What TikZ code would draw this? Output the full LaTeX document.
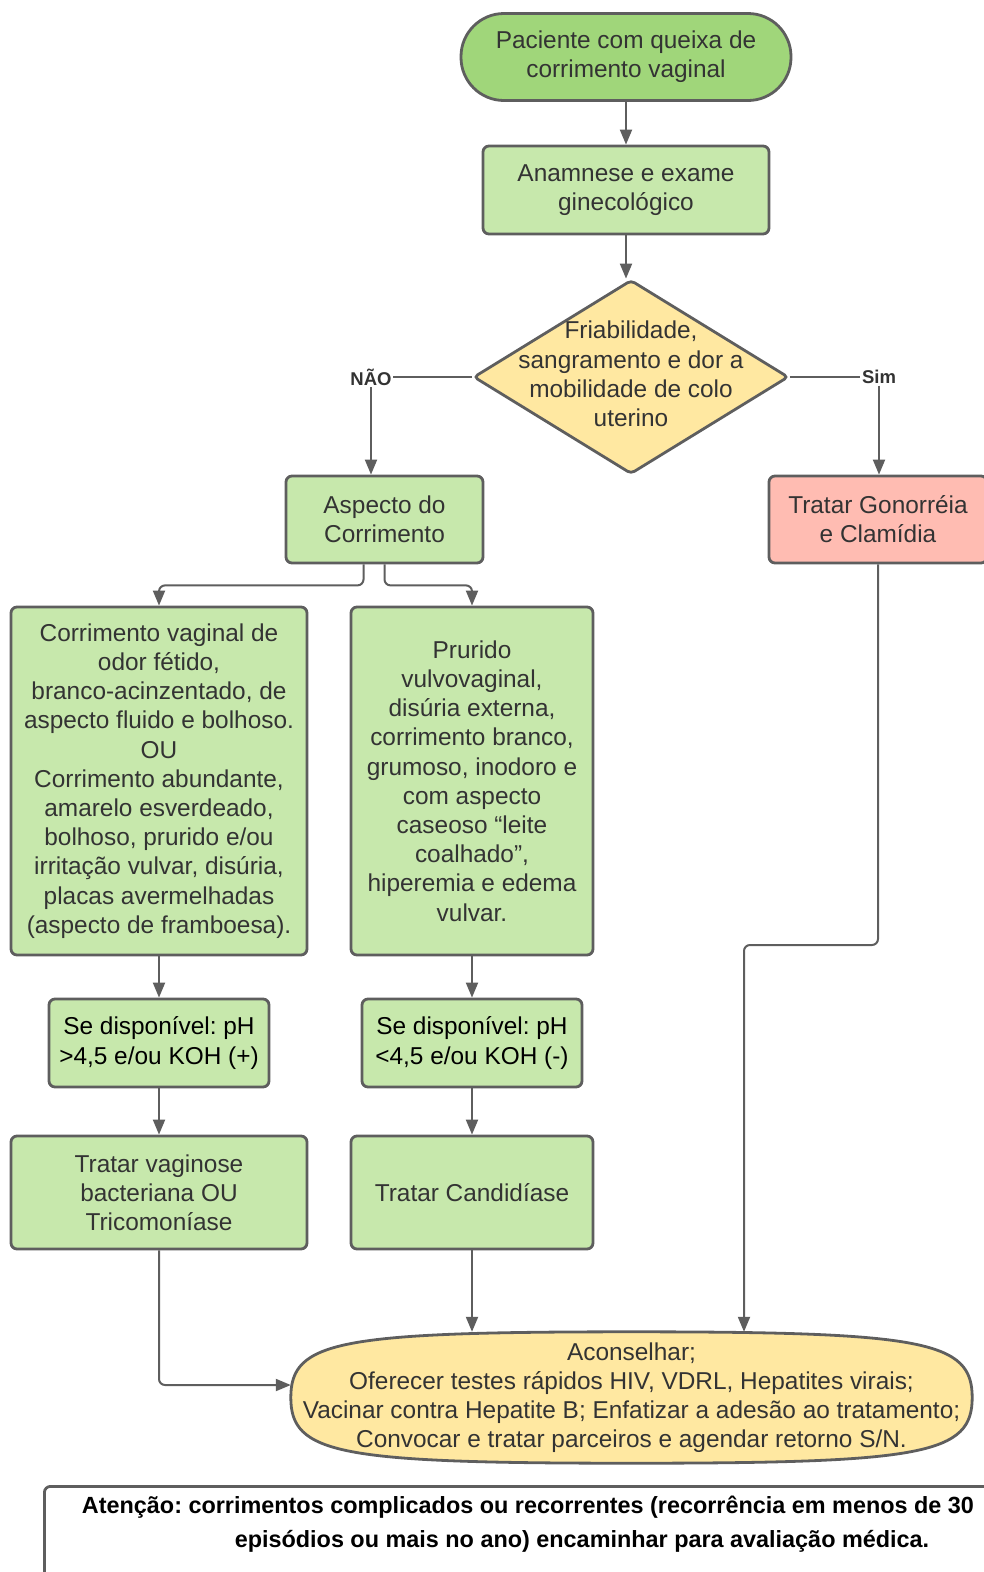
\documentclass[tikz,border=0pt]{standalone}
\usepackage{fontspec}
\setmainfont{Liberation Sans}
\usetikzlibrary{shapes.geometric, arrows.meta, calc, backgrounds}

\definecolor{linegray}{RGB}{94,94,94}
\definecolor{txtgray}{RGB}{51,51,51}
\definecolor{startgreen}{RGB}{160,214,122}
\definecolor{boxgreen}{RGB}{199,232,172}
\definecolor{softyellow}{RGB}{255,232,161}
\definecolor{softred}{RGB}{255,188,178}
\frenchspacing

\begin{document}
\begin{tikzpicture}[x=1pt, y=-1pt, >={Triangle[length=15pt, width=12pt]},
					every node/.style={font=\fontsize{24.4}{29.2}\selectfont, text=txtgray},
					process/.style={rectangle, draw=linegray, line width=2.8pt, rounded corners=6pt, fill=boxgreen, align=center, inner sep=0pt},
					startstop/.style={process, rounded corners=43pt, fill=startgreen, minimum width=330pt, minimum height=87pt},
					decision/.style={diamond, draw=linegray, line width=2.8pt, rounded corners=4pt, fill=softyellow, minimum width=315pt, minimum height=194pt, inner sep=0pt},
					plain/.style={align=center, inner sep=0pt},
					phbox/.style={process, text=black, minimum width=220pt, minimum height=88pt},
					lbl/.style={font=\bfseries\fontsize{18.5}{20}\selectfont, fill=white, inner sep=1.5pt},
					line/.style={draw=linegray, line width=2pt, rounded corners=6pt},
					arrow/.style={line, ->}
				]
					\useasboundingbox (0,0) rectangle (984,1572);
					\clip (0,0) rectangle (984,1572);
					
					% Nodes
					\node[startstop] (start) at (626,57) {Paciente com queixa de\\corrimento vaginal};
					\node[process, minimum width=286pt, minimum height=88pt] (anam) at (626,190) {Anamnese e exame\\ginecológico};
					\node[decision] (dec) at (631,377) {};
					\node[plain] (dectext) at (631,374) {Friabilidade,\\sangramento e dor a\\mobilidade de colo\\uterino};
					\node[lbl] (nao) at (371,377) {NÃO};
					\node[lbl] (sim) at (879,377) {Sim};
					\node[process, minimum width=197pt, minimum height=87pt] (aspect) at (384.5,519.5) {Aspecto do\\Corrimento};
					\node[process, fill=softred, minimum width=218pt, minimum height=87pt] (gono) at (878,519.5) {Tratar Gonorréia\\e Clamídia};
					\node[process, minimum width=296pt, minimum height=348pt] (sintL) at (159,781) {Corrimento vaginal de\\odor fétido,\\branco-acinzentado, de\\aspecto fluido e bolhoso.\\OU\\Corrimento abundante,\\amarelo esverdeado,\\bolhoso, prurido e/ou\\irritação vulvar, disúria,\\placas avermelhadas\\(aspecto de framboesa).};
					\node[process, minimum width=242pt, minimum height=348pt] (sintM) at (472,781) {Prurido\\vulvovaginal,\\disúria externa,\\corrimento branco,\\grumoso, inodoro e\\com aspecto\\caseoso “leite\\coalhado”,\\hiperemia e edema\\vulvar.};
					\node[phbox] (phL) at (159,1043) {Se disponível: pH\\>4,5 e/ou KOH (+)};
					\node[phbox] (phM) at (472,1043) {Se disponível: pH\\<4,5 e/ou KOH (-)};
					\node[process, minimum width=296pt, minimum height=113pt] (trL) at (159,1192.5) {Tratar vaginose\\bacteriana OU\\Tricomoníase};
					\node[process, minimum width=242pt, minimum height=113pt] (trM) at (472,1192.5) {Tratar Candidíase};
					\node[plain, minimum width=681pt, minimum height=131pt] (acons) at (631.5,1397.5) {Aconselhar;\\Oferecer testes rápidos HIV, VDRL, Hepatites virais;\\Vacinar contra Hepatite B; Enfatizar a adesão ao tratamento;\\Convocar e tratar parceiros e agendar retorno S/N.};
					\node[draw=linegray, line width=2.8pt, rounded corners=6pt, anchor=north west, minimum width=1078pt, minimum height=160pt] (notebox) at (43,1485) {};
					\node[plain, text=black, font=\bfseries\fontsize{23.4}{34}\selectfont] (notetext) at (582,1524) {Atenção: corrimentos complicados ou recorrentes (recorrência em menos de 30\hspace*{108pt}\\episódios ou mais no ano) encaminhar para avaliação médica.};
					
					% Outline of the counselling node
					\begin{scope}[on background layer]
						\draw[draw=linegray, line width=2.8pt, fill=softyellow]
							(acons.west) .. controls ($(acons.west)!0.86!(acons.north west)$) and ($(acons.north)!0.86!(acons.north west)$) .. (acons.north)
							.. controls ($(acons.north)!0.86!(acons.north east)$) and ($(acons.east)!0.86!(acons.north east)$) .. (acons.east)
							.. controls ($(acons.east)!0.86!(acons.south east)$) and ($(acons.south)!0.86!(acons.south east)$) .. (acons.south)
							.. controls ($(acons.south)!0.86!(acons.south west)$) and ($(acons.west)!0.86!(acons.south west)$) .. (acons.west) -- cycle;
					\end{scope}
					
					% Arrows
					\coordinate (bend) at (744,945);
					\draw[arrow] (start) -- (anam);
					\draw[arrow] (anam.south) -- (anam.south |- dec.north);
					\draw[line] (dec.west) -- (nao.east);
					\draw[arrow] (nao.south) -- (nao.south |- aspect.north);
					\draw[line] (dec.east) -- (sim.west);
					\draw[arrow] (sim.south) -- (sim.south |- gono.north);
					\draw[arrow] ([xshift=-21pt]aspect.south) -- ++(0,21) -| (sintL.north);
					\draw[arrow] (aspect.south) -- ++(0,21) -| (sintM.north);
					\draw[arrow] (sintL) -- (phL);
					\draw[arrow] (sintM) -- (phM);
					\draw[arrow] (phL) -- (trL);
					\draw[arrow] (phM) -- (trM);
					\draw[arrow] (trL.south) |- ([yshift=12.5pt]acons.west);
					\draw[arrow] (trM.south) -- (trM.south |- acons.north);
					\draw[arrow] (gono.south) |- (bend) -- (bend |- acons.north);
				\end{tikzpicture}
\end{document}
